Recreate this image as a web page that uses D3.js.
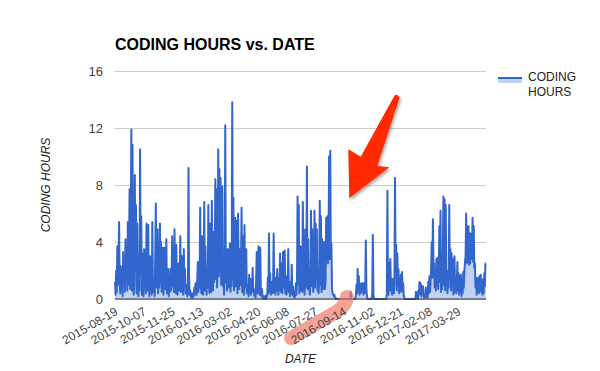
<!DOCTYPE html>
<html>
<head>
<meta charset="utf-8">
<script src="https://cdn.jsdelivr.net/npm/d3@7"></script>
<style>
  body { margin: 0; background: #fff; }
  svg { display: block; font-family: "Liberation Sans", Arial, sans-serif; }
</style>
</head>
<body>
<svg id="chart" width="600" height="371"></svg>
<script>
// Chart data: one value per day starting on startDate
var startDate = "2015-08-19";
var hours = [
  1.2, 0.3, 2.0, 0.5, 3.7, 1.0, 2.5, 5.4, 1.5, 0.4,
  2.3, 0.8, 1.6, 0.2, 3.3, 1.2, 2.6, 0.5, 4.2, 2.0,
  3.1, 0.6, 5.4, 1.0, 3.2, 7.7, 0.7, 4.5, 11.9, 0.6,
  10.8, 2.4, 0.3, 1.0, 8.7, 2.0, 6.6, 0.4, 5.3, 1.6,
  0.2, 3.0, 0.6, 10.5, 1.8, 5.8, 0.3, 3.2, 1.1, 0.2,
  3.5, 0.8, 2.2, 0.4, 5.3, 1.5, 0.6, 5.2, 0.9, 0.2,
  3.0, 0.7, 1.8, 0.3, 5.4, 1.2, 0.5, 1.4, 0.2, 3.0,
  6.7, 0.8, 2.2, 4.9, 0.4, 1.6, 0.8, 5.3, 1.2, 4.0,
  0.5, 2.1, 3.6, 0.3, 1.4, 3.6, 0.7, 2.0, 4.2, 0.4,
  1.0, 2.1, 0.2, 1.0, 0.5, 2.1, 0.6, 1.5, 4.4, 0.9,
  2.4, 0.5, 4.9, 1.2, 0.4, 3.8, 1.0, 0.3, 1.5, 2.5,
  0.6, 1.8, 4.4, 0.5, 1.2, 3.0, 0.8, 0.3, 3.5, 1.0,
  2.1, 0.4, 1.0, 0.7, 0.2, 0.5, 9.2, 1.5, 0.3, 0.6,
  0.2, 0.1, 0.4, 0.1, 0.3, 0.2, 0.8, 0.3, 1.1, 0.4,
  0.3, 1.4, 2.6, 0.5, 1.8, 0.8, 6.4, 1.2, 0.4, 4.4,
  1.0, 0.3, 2.0, 6.8, 0.6, 3.7, 1.4, 0.3, 2.2, 0.8,
  6.6, 1.0, 0.4, 5.3, 1.5, 0.5, 6.9, 1.8, 0.6, 4.7,
  1.2, 3.0, 8.4, 1.4, 7.7, 0.8, 2.5, 10.5, 1.6, 9.1,
  2.0, 8.5, 1.0, 3.5, 7.9, 0.9, 1.4, 0.3, 2.0, 12.2,
  1.2, 3.5, 0.6, 1.5, 3.5, 0.8, 2.2, 3.9, 0.5, 1.6,
  0.9, 13.8, 1.4, 7.1, 0.6, 2.0, 5.7, 0.9, 3.0, 5.5,
  0.4, 6.0, 1.8, 0.7, 3.5, 1.0, 2.5, 6.4, 0.5, 4.4,
  1.2, 0.3, 5.2, 0.8, 2.4, 3.5, 0.4, 1.0, 0.7, 0.2,
  1.7, 0.5, 1.4, 0.3, 1.0, 0.6, 2.2, 0.5, 0.7, 0.2,
  0.4, 0.1, 1.5, 3.3, 0.4, 1.2, 3.7, 0.8, 0.3, 3.6,
  0.7, 0.2, 0.7, 0.1, 0.2, 0, 0.2, 0.1, 0.2, 0,
  0.3, 0.2, 1.5, 0.4, 4.6, 0.6, 1.8, 0.3, 0.7, 1.2,
  0.4, 1.0, 4.6, 0.5, 1.4, 0.3, 1.5, 0.6, 2.1, 0.8,
  0.3, 1.4, 0.7, 3.2, 0.5, 2.5, 1.0, 0.4, 3.3, 0.8,
  1.5, 3.4, 0.4, 1.1, 0.3, 1.6, 0.6, 3.5, 0.5, 0.9,
  0.2, 1.2, 0.5, 2.4, 0.3, 0.9, 0.2, 0.5, 0.1, 0.4,
  1.1, 0.3, 1.5, 7.2, 1.0, 6.6, 0.4, 1.6, 3.7, 0.6,
  1.4, 0.5, 6.8, 1.2, 0.9, 0.3, 4.9, 0.8, 1.5, 9.3,
  0.7, 4.2, 1.0, 0.7, 0.3, 1.5, 6.2, 0.9, 4.9, 1.2,
  0.5, 2.0, 6.2, 0.8, 5.3, 1.4, 4.9, 0.6, 1.6, 0.4,
  1.2, 6.9, 1.0, 5.8, 0.5, 4.2, 1.8, 0.7, 4.0, 1.5,
  0.7, 1.3, 5.7, 2.8, 5.8, 2.5, 3.2, 10.0, 2.8, 10.4,
  2.8, 3.9, 0.8, 0.4, 0.3, 0.2, 0.3, 0.1, 0.1, 0,
  0, 0, 0, 0, 0, 0, 0, 0, 0, 0,
  0, 0, 0, 0, 0, 0, 0, 0, 0, 0,
  0, 0, 0, 0, 0.5, 0.1, 0, 0, 0, 0,
  0, 0, 0, 0.3, 1.0, 0.4, 2.1, 0.6, 1.6, 0.3,
  1.0, 0.4, 1.1, 0.5, 0.8, 1.1, 0.3, 1.1, 0.4, 1.0,
  4.1, 0.7, 0.2, 0, 0, 0, 0, 0, 0, 0,
  0, 0.4, 4.5, 0.3, 0, 0, 0, 0, 0, 0,
  0, 0, 0, 0, 0, 0, 0, 0, 0, 0,
  0, 0, 0, 0, 0, 0, 0.3, 7.6, 0.7, 0.3,
  2.5, 0.6, 2.8, 1.0, 0.7, 0.3, 1.4, 0.7, 0.4, 1.0,
  8.5, 2.0, 3.8, 0.6, 3.2, 1.0, 2.1, 0.4, 1.4, 0.6,
  1.7, 0.5, 1.9, 0.8, 1.1, 0.3, 0.1, 0, 0, 0,
  0, 0, 0, 0, 0, 0, 0, 0, 0, 0,
  0, 0, 0, 0, 0, 0, 0.5, 0.1, 0.2, 0,
  0.6, 0.3, 1.2, 0.4, 1.1, 0.2, 0.9, 0.5, 0.9, 0.2,
  0.1, 0.3, 0.1, 0.8, 0.3, 0.2, 0.1, 1.2, 0.4, 1.6,
  0.5, 1.3, 2.2, 4.0, 1.5, 5.6, 2.0, 2.5, 0.8, 1.5,
  0.6, 2.8, 1.0, 2.9, 0.7, 1.8, 5.1, 1.2, 6.2, 0.5,
  2.5, 0.7, 3.0, 7.2, 1.0, 7.0, 0.6, 6.6, 1.2, 1.7,
  0.4, 2.0, 0.8, 6.6, 1.5, 3.5, 0.6, 3.2, 1.0, 2.8,
  0.3, 1.4, 3.0, 0.5, 1.6, 0.4, 1.2, 2.6, 0.6, 1.8,
  0.3, 1.6, 0.5, 1.7, 0.2, 1.2, 0.4, 1.9, 0.8, 2.0,
  2.6, 3.0, 6.0, 2.5, 5.1, 2.6, 5.1, 2.4, 4.6, 2.5,
  4.6, 2.8, 3.5, 5.7, 2.6, 5.1, 2.2, 2.5, 0.8, 1.5,
  0.3, 1.4, 0.5, 1.5, 0.4, 1.6, 0.6, 1.7, 0.5, 0.7,
  0.3, 1.4, 0.4, 1.8, 0.9, 2.5, 2.5
];
var yTicks = [0, 4, 8, 12, 16];
var xTickLabels = ["2015-08-19", "2015-10-07", "2015-11-25", "2016-01-13", "2016-03-02",
  "2016-04-20", "2016-06-08", "2016-07-27", "2016-09-14", "2016-11-02",
  "2016-12-21", "2017-02-08", "2017-03-29"];
var seriesName = "CODING HOURS";

var parseDate = d3.timeParse("%Y-%m-%d");
var fmtDate = d3.timeFormat("%Y-%m-%d");
var day0 = parseDate(startDate);
var data = hours.map(function (v, i) {
    return { date: d3.timeDay.offset(day0, i), value: v };
});

var svg = d3.select("#chart");
var plotLeft = 115, plotRight = 486, plotTop = 71, plotBottom = 299;
var blue = "#3366cc";

var x = d3.scaleTime()
    .domain([data[0].date, data[data.length - 1].date])
    .range([plotLeft, plotRight]);
var y = d3.scaleLinear().domain([0, 16]).range([plotBottom, plotTop]);

var defs = svg.append("defs");
var shadow = defs.append("filter").attr("id", "shadow")
    .attr("x", "-30%").attr("y", "-30%").attr("width", "160%").attr("height", "160%");
shadow.append("feDropShadow")
    .attr("dx", 1.5).attr("dy", 2).attr("stdDeviation", 1.8)
    .attr("flood-color", "#000").attr("flood-opacity", 0.35);

// title
svg.append("text")
    .attr("x", plotLeft).attr("y", 50)
    .attr("font-size", 16).attr("font-weight", "bold").attr("fill", "#000")
    .text("CODING HOURS vs. DATE");

// gridlines + y labels
var yAxis = svg.append("g")
    .attr("transform", "translate(" + plotLeft + ",0)")
    .call(d3.axisLeft(y).tickValues(yTicks).tickSize(-(plotRight - plotLeft)).tickPadding(12));
yAxis.select(".domain").remove();
yAxis.selectAll("line").attr("stroke", "#cccccc");
yAxis.selectAll("text").attr("font-size", 13).attr("fill", "#444")
    .attr("font-family", "Liberation Sans, Arial, sans-serif");

// area + line
var area = d3.area()
    .x(function (d) { return x(d.date); })
    .y0(y(0))
    .y1(function (d) { return y(d.value); });
var line = d3.line()
    .x(function (d) { return x(d.date); })
    .y(function (d) { return y(d.value); });

svg.append("path").datum(data)
    .attr("d", area)
    .attr("fill", blue).attr("fill-opacity", 0.3);

svg.append("path").datum(data)
    .attr("d", line)
    .attr("fill", "none").attr("stroke", blue)
    .attr("stroke-width", 2).attr("stroke-linejoin", "round");

// baseline
svg.append("line")
    .attr("x1", plotLeft).attr("x2", plotRight)
    .attr("y1", y(0)).attr("y2", y(0))
    .attr("stroke", "#333").attr("stroke-width", 1);

// highlight behind 2016-09-14
svg.append("path")
    .attr("d", "M291,338 L336,312 Q346,306 347,297")
    .attr("fill", "none").attr("stroke", "#f07a68").attr("stroke-opacity", 0.7)
    .attr("stroke-width", 14).attr("stroke-linecap", "round");

// x axis
var xAxis = svg.append("g")
    .attr("transform", "translate(0," + plotBottom + ")")
    .call(d3.axisBottom(x)
        .tickValues(xTickLabels.map(parseDate))
        .tickSize(0)
        .tickFormat(fmtDate));
xAxis.select(".domain").remove();
xAxis.selectAll("text")
    .attr("font-size", 12).attr("fill", "#444")
    .attr("font-family", "Liberation Sans, Arial, sans-serif")
    .attr("text-anchor", "end")
    .attr("dy", 0)
    .attr("y", 0)
    .attr("transform", "translate(3,15) rotate(-30)");

// axis titles
svg.append("text")
    .attr("x", (plotLeft + plotRight) / 2).attr("y", 363)
    .attr("text-anchor", "middle")
    .attr("font-size", 12).attr("font-style", "italic").attr("fill", "#222")
    .text("DATE");
svg.append("text")
    .attr("transform", "translate(50," + (plotTop + plotBottom) / 2 + ") rotate(-90)")
    .attr("text-anchor", "middle")
    .attr("font-size", 12).attr("font-style", "italic").attr("fill", "#222")
    .text("CODING HOURS");

// legend
var legend = svg.append("g").attr("transform", "translate(498,77)");
legend.append("rect").attr("x", 0).attr("y", 1).attr("width", 24).attr("height", 5)
    .attr("fill", blue).attr("fill-opacity", 0.3);
legend.append("line").attr("x1", 0).attr("x2", 24).attr("y1", 1).attr("y2", 1)
    .attr("stroke", blue).attr("stroke-width", 2);
legend.append("text").attr("x", 30).attr("y", 4).attr("font-size", 12).attr("fill", "#222")
    .selectAll("tspan").data(seriesName.split(" ")).enter()
    .append("tspan").attr("x", 30).attr("dy", function (d, i) { return i ? 15 : 0; })
    .text(function (d) { return d; });

// red arrow annotation
svg.append("path")
    .attr("d", "M349.3,198.3 L348.3,149.3 L360.7,156.7 L394.3,96 Q397,93 399.5,97.5 L377.3,166 L389.3,167.3 Z")
    .attr("fill", "#ff2a00")
    .attr("filter", "url(#shadow)");
</script>
</body>
</html>
